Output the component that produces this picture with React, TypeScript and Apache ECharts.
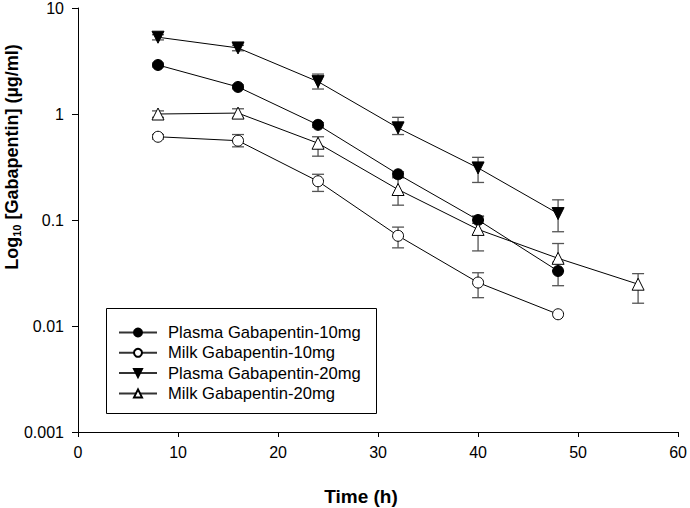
import React, { useEffect, useRef } from "react";
import * as echarts from "echarts";

const times10 = [8, 16, 24, 32, 40, 48];
const times20 = [8, 16, 24, 32, 40, 48, 56];

const plasma10 = [2.9, 1.8, 0.79, 0.27, 0.1, 0.033];
const plasma10Lo = [2.78, 1.73, 0.75, 0.255, 0.093, 0.024];
const plasma10Hi = [3.02, 1.88, 0.83, 0.285, 0.108, 0.04];

const milk10 = [0.61, 0.56, 0.232, 0.071, 0.0257, 0.0129];
const milk10Lo = [0.58, 0.49, 0.186, 0.0546, 0.0185, null];
const milk10Hi = [0.64, 0.64, 0.27, 0.0857, 0.0318, null];

const plasma20 = [5.3, 4.2, 2.02, 0.74, 0.31, 0.115];
const plasma20Lo = [5.0, 3.95, 1.72, 0.64, 0.226, 0.0775];
const plasma20Hi = [5.6, 4.45, 2.38, 0.93, 0.39, 0.155];

const milk20 = [1.0, 1.02, 0.53, 0.194, 0.0815, 0.0435, 0.0248];
const milk20Lo = [0.93, 0.93, 0.4, 0.138, 0.0511, 0.0331, 0.0164];
const milk20Hi = [1.07, 1.12, 0.61, 0.25, 0.109, 0.06, 0.0312];

const seriesNames = [
  "Plasma Gabapentin-10mg",
  "Milk Gabapentin-10mg",
  "Plasma Gabapentin-20mg",
  "Milk Gabapentin-20mg",
];

const yTickLabels = ["0.001", "0.01", "0.1", "1", "10"];

const FONT = "'Liberation Sans', Arial, sans-serif";

function pairs(xs: number[], ys: number[]) {
  return xs.map((x, i) => [x, ys[i]]);
}

function errData(xs: number[], lo: (number | null)[], hi: (number | null)[]) {
  const out: number[][] = [];
  xs.forEach((x, i) => {
    if (lo[i] != null && hi[i] != null) out.push([x, lo[i] as number, hi[i] as number]);
  });
  return out;
}

function errSeries(data: number[][]) {
  return {
    type: "custom",
    silent: true,
    z: 1,
    renderItem: (params: any, api: any) => {
      const x = api.value(0);
      const lo = api.coord([x, api.value(1)]);
      const hi = api.coord([x, api.value(2)]);
      const hw = 6;
      const style = { stroke: "#555", lineWidth: 1.3, fill: "none" };
      return {
        type: "group",
        children: [
          { type: "line", shape: { x1: lo[0], y1: lo[1], x2: hi[0], y2: hi[1] }, style },
          { type: "line", shape: { x1: lo[0] - hw, y1: lo[1], x2: lo[0] + hw, y2: lo[1] }, style },
          { type: "line", shape: { x1: hi[0] - hw, y1: hi[1], x2: hi[0] + hw, y2: hi[1] }, style },
        ],
      };
    },
    data,
  };
}

export default function App() {
  const ref = useRef<HTMLDivElement>(null);

  useEffect(() => {
    if (!ref.current) return;
    const chart = echarts.init(ref.current, undefined, { renderer: "svg" });

    const lineBase = {
      type: "line",
      z: 3,
      lineStyle: { color: "#000", width: 1 },
      emphasis: { disabled: true },
    };

    chart.setOption({
      animation: false,
      backgroundColor: "#fff",
      textStyle: { fontFamily: FONT },
      grid: { left: 78, right: 9, top: 6, bottom: 76, containLabel: false },
      legend: {
        data: seriesNames,
        orient: "vertical",
        left: 118,
        top: 324,
        padding: 0,
        itemGap: 3.3,
        itemWidth: 38,
        itemHeight: 10,
        lineStyle: { color: "#333" },
        textStyle: {
          fontSize: 16.6,
          lineHeight: 10,
          color: "#000",
          fontFamily: FONT,
          padding: [0, 0, 0, 6],
        },
        selectedMode: false,
      },
      xAxis: {
        type: "value",
        min: 0,
        max: 60,
        interval: 10,
        splitLine: { show: false },
        axisLine: { lineStyle: { color: "#000", width: 1 } },
        axisTick: { show: true, length: 5, lineStyle: { color: "#000" } },
        axisLabel: { color: "#000", fontSize: 16, margin: 12, fontFamily: FONT },
      },
      yAxis: {
        type: "log",
        logBase: 10,
        min: 0.001,
        max: 10,
        splitLine: { show: false },
        minorTick: { show: false },
        axisLine: { show: true, lineStyle: { color: "#000", width: 1 } },
        axisTick: { show: true, length: 6, lineStyle: { color: "#000" } },
        axisLabel: {
          color: "#000",
          fontSize: 16,
          margin: 14,
          fontFamily: FONT,
          formatter: (v: number) => {
            const e = Math.round(Math.log10(v));
            return yTickLabels[e + 3] ?? String(v);
          },
        },
      },
      graphic: [
        {
          type: "rect",
          shape: { x: 106.5, y: 308.5, width: 270, height: 105 },
          style: { fill: "#fff", stroke: "#000", lineWidth: 1 },
          z: 0,
          zlevel: 0,
        },
        {
          type: "text",
          x: 12,
          y: 157,
          rotation: Math.PI / 2,
          style: {
            text: "{a|Log}{s|10}{a| [Gabapentin] (µg/ml)}",
            align: "center",
            verticalAlign: "middle",
            fill: "#000",
            rich: {
              a: { fontSize: 18, fontWeight: "bold", fontFamily: FONT, fill: "#000" },
              s: { fontSize: 11, fontWeight: "bold", fontFamily: FONT, fill: "#000", padding: [9, 0, 0, 0] },
            },
          },
        },
        {
          type: "text",
          x: 361,
          y: 496,
          style: {
            text: "Time (h)",
            align: "center",
            verticalAlign: "middle",
            fontSize: 19,
            fontWeight: "bold",
            fontFamily: FONT,
            fill: "#000",
          },
        },
      ],
      series: [
        errSeries(errData(times10, plasma10Lo, plasma10Hi)),
        errSeries(errData(times10, milk10Lo, milk10Hi)),
        errSeries(errData(times10, plasma20Lo, plasma20Hi)),
        errSeries(errData(times20, milk20Lo, milk20Hi)),
        {
          ...lineBase,
          name: seriesNames[0],
          data: pairs(times10, plasma10),
          symbol: "circle",
          symbolSize: 11,
          itemStyle: { color: "#000", borderColor: "#000", borderWidth: 1 },
        },
        {
          ...lineBase,
          name: seriesNames[1],
          data: pairs(times10, milk10),
          symbol: "circle",
          symbolSize: 11,
          itemStyle: { color: "#fff", borderColor: "#000", borderWidth: 1 },
        },
        {
          ...lineBase,
          name: seriesNames[2],
          data: pairs(times10, plasma20),
          symbol: "triangle",
          symbolRotate: 180,
          symbolSize: 12,
          itemStyle: { color: "#000", borderColor: "#000", borderWidth: 1 },
        },
        {
          ...lineBase,
          name: seriesNames[3],
          data: pairs(times20, milk20),
          symbol: "triangle",
          symbolSize: 12,
          itemStyle: { color: "#fff", borderColor: "#000", borderWidth: 1 },
        },
      ],
    });

    return () => chart.dispose();
  }, []);

  return (
    <div
      ref={ref}
      style={{ position: "absolute", left: 0, top: 0, width: 690, height: 508 }}
    />
  );
}
